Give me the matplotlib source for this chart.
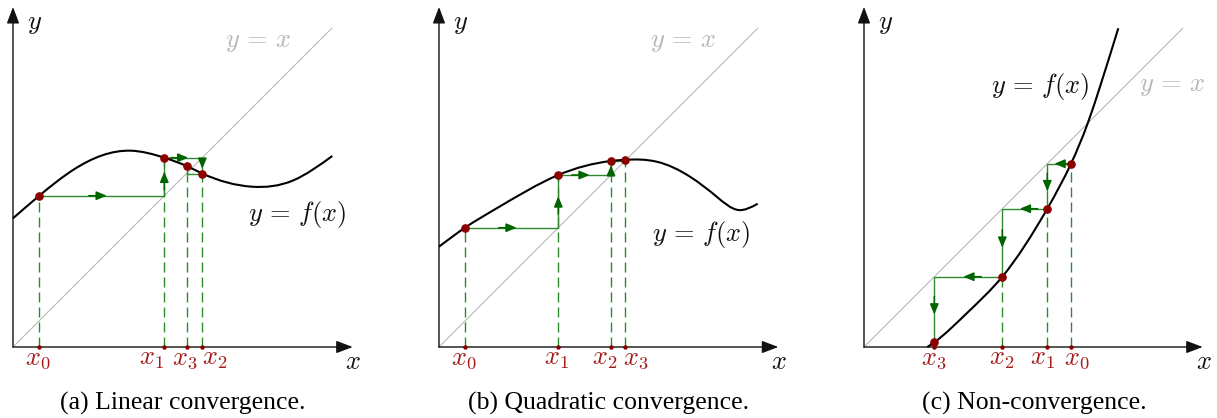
import numpy as np
import matplotlib
matplotlib.use('Agg')
import matplotlib.pyplot as plt
from matplotlib.path import Path
from matplotlib.patches import PathPatch

plt.rcParams['mathtext.fontset'] = 'cm'
plt.rcParams['font.family'] = ['Liberation Serif', 'DejaVu Serif']

W, H = 1217, 418

# extra knots along each f(x) (the iterate points are added to these)
lin_knots_x = [0, 60, 118, 239, 280, 319.3]
lin_knots_y = [128.7, 177, 196.3, 160.3, 166.5, 191]
quad_knots_x = [0, 57.7, 217.7, 251, 277.7, 299.3, 318.7]
quad_knots_y = [100.3, 138.7, 185.3, 170.3, 150.3, 137, 143.3]
div_knots_x = [63.3, 102.7, 223.7, 236, 254.3]
div_knots_y = [0, 33.7, 223.7, 260.3, 318.7]

# iterates x0, x1, ... with x_{n+1} = f(x_n); the last entry is f(x3)
lin_iter = [26.3, 151.3, 189.3, 173.5, 181.0]
quad_iter = [26.0, 119.3, 172.0, 186.0, 187.2]
div_iter = [207.0, 183.3, 138.3, 70.3, 4.7]

tick_names = [r'$x_0$', r'$x_1$', r'$x_2$', r'$x_3$']
captions = ['(a) Linear convergence.', '(b) Quadratic convergence.',
            '(c) Non-convergence.']

CURVE = '#000000'
DIAG = '#b8b8b8'
GREEN = '#2f8a2f'
DKGREEN = '#006400'
RED = '#8c0000'
LABRED = '#a51a1a'
INK = '#111111'


def smooth_path(xs, ys):
    # natural cubic spline through the knots, drawn as Bezier segments
    x = np.asarray(xs, float)
    y = np.asarray(ys, float)
    order = np.argsort(x)
    x, y = x[order], y[order]
    n = len(x)
    h = np.diff(x)
    d = np.diff(y) / h
    A = np.zeros((n, n))
    b = np.zeros(n)
    A[0, 0], A[0, 1], b[0] = 2, 1, 3 * d[0]
    A[-1, -2], A[-1, -1], b[-1] = 1, 2, 3 * d[-1]
    for i in range(1, n - 1):
        A[i, i - 1] = h[i]
        A[i, i] = 2 * (h[i - 1] + h[i])
        A[i, i + 1] = h[i - 1]
        b[i] = 3 * (h[i] * d[i - 1] + h[i - 1] * d[i])
    m = np.linalg.solve(A, b)
    verts = [(x[0], y[0])]
    codes = [Path.MOVETO]
    for i in range(n - 1):
        verts += [(x[i] + h[i] / 3, y[i] + m[i] * h[i] / 3),
                  (x[i + 1] - h[i] / 3, y[i + 1] - m[i + 1] * h[i] / 3),
                  (x[i + 1], y[i + 1])]
        codes += [Path.CURVE4] * 3
    return Path(verts, codes)


def axis_arrow(ax, tip):
    ax.annotate('', xy=tip, xytext=(0, 0),
                arrowprops=dict(arrowstyle='-|>,head_length=1.0,head_width=0.38',
                                mutation_scale=10, lw=1.0, color=INK,
                                shrinkA=0, shrinkB=0), zorder=3)


def flow_arrow(ax, p, q):
    p, q = np.array(p, float), np.array(q, float)
    L = np.hypot(*(q - p))
    u = (q - p) / L
    mid = (p + q) / 2
    tip = mid + u * min(5, L * 0.2)
    tail = tip - u * min(18, L * 0.6)
    ax.annotate('', xy=tip, xytext=tail,
                arrowprops=dict(arrowstyle='-|>,head_length=0.62,head_width=0.26',
                                mutation_scale=10, lw=1.1, color=DKGREEN,
                                shrinkA=0, shrinkB=0), zorder=5)


def draw_panel(ax, origin, knots_x, knots_y, it, n_arrows, shifts, x_tip,
               fx_pos, diag_pos, caption):
    ox, oy = origin
    ax.set_xlim(-ox, W - ox)
    ax.set_ylim(oy - H, oy)
    ax.axis('off')
    ax.patch.set_alpha(0)

    # y = x
    ax.plot([0, 318.7], [0, 318.7], color=DIAG, lw=0.8, zorder=1)

    # y = f(x) through the knots and the iterate points
    px = list(knots_x) + list(it[:4])
    py = list(knots_y) + list(it[1:5])
    ax.add_patch(PathPatch(smooth_path(px, py), fill=False, ec=CURVE,
                           lw=1.5, zorder=4, capstyle='butt'))

    # axes
    axis_arrow(ax, (x_tip, 0))
    axis_arrow(ax, (0, 340))

    # cobweb
    pts = [(it[0], it[1])]
    for k in range(1, 4):
        pts.append((it[k], it[k]))
        pts.append((it[k], it[k + 1]))
    cx, cy = zip(*pts)
    ax.plot(cx, cy, color=GREEN, lw=1.0, zorder=3, solid_joinstyle='miter')
    for k in range(n_arrows):
        flow_arrow(ax, pts[k], pts[k + 1])

    # drop lines, points and labels
    for k in range(4):
        xk, fk = it[k], it[k + 1]
        ax.plot([xk, xk], [0, fk], color=GREEN, lw=1.0, dashes=(7.2, 3.6),
                zorder=2)
        ax.plot(xk, fk, 'o', color=RED, ms=5.2, mec=RED, zorder=6)
        ax.plot(xk, 0, 'o', color=RED, ms=2.2, mec=RED, zorder=6)
        ax.text(xk + shifts[k], -2, tick_names[k], color=LABRED, fontsize=19,
                ha='center', va='top')

    ax.text(22, 322, r'$y$', fontsize=19, ha='center', va='center', color=INK)
    ax.text(340, -16, r'$x$', fontsize=19, ha='center', va='center', color=INK)
    ax.text(*diag_pos, r'$y\,=\,x$', fontsize=19, ha='center', va='center',
            color=DIAG)
    ax.text(*fx_pos, r'$y\,=\,f(x)$', fontsize=19, ha='center', va='center',
            color=INK)
    ax.text(170, -56, caption, fontsize=18.5, ha='center', va='center')


fig = plt.figure(figsize=(W / 100, H / 100), dpi=100)

ax_a = fig.add_axes([0, 0, 1, 1])
draw_panel(ax_a, (13, 347), lin_knots_x, lin_knots_y, lin_iter, 4,
           [-1.5, -12.5, 12, -2], 339.7, (284, 132), (244.7, 303.7), captions[0])

ax_b = fig.add_axes([0, 0, 1, 1])
draw_panel(ax_b, (439, 347), quad_knots_x, quad_knots_y, quad_iter, 4,
           [-1.5, -2, -6, 11], 339.3, (262, 112), (244.3, 303.7), captions[1])

ax_c = fig.add_axes([0, 0, 1, 1])
draw_panel(ax_c, (864, 347), div_knots_x, div_knots_y, div_iter, 6,
           [5.5, -4.5, -1, -1], 338.7, (176, 260), (307.7, 260), captions[2])

fig.savefig('out.png', dpi=100, facecolor='white')
